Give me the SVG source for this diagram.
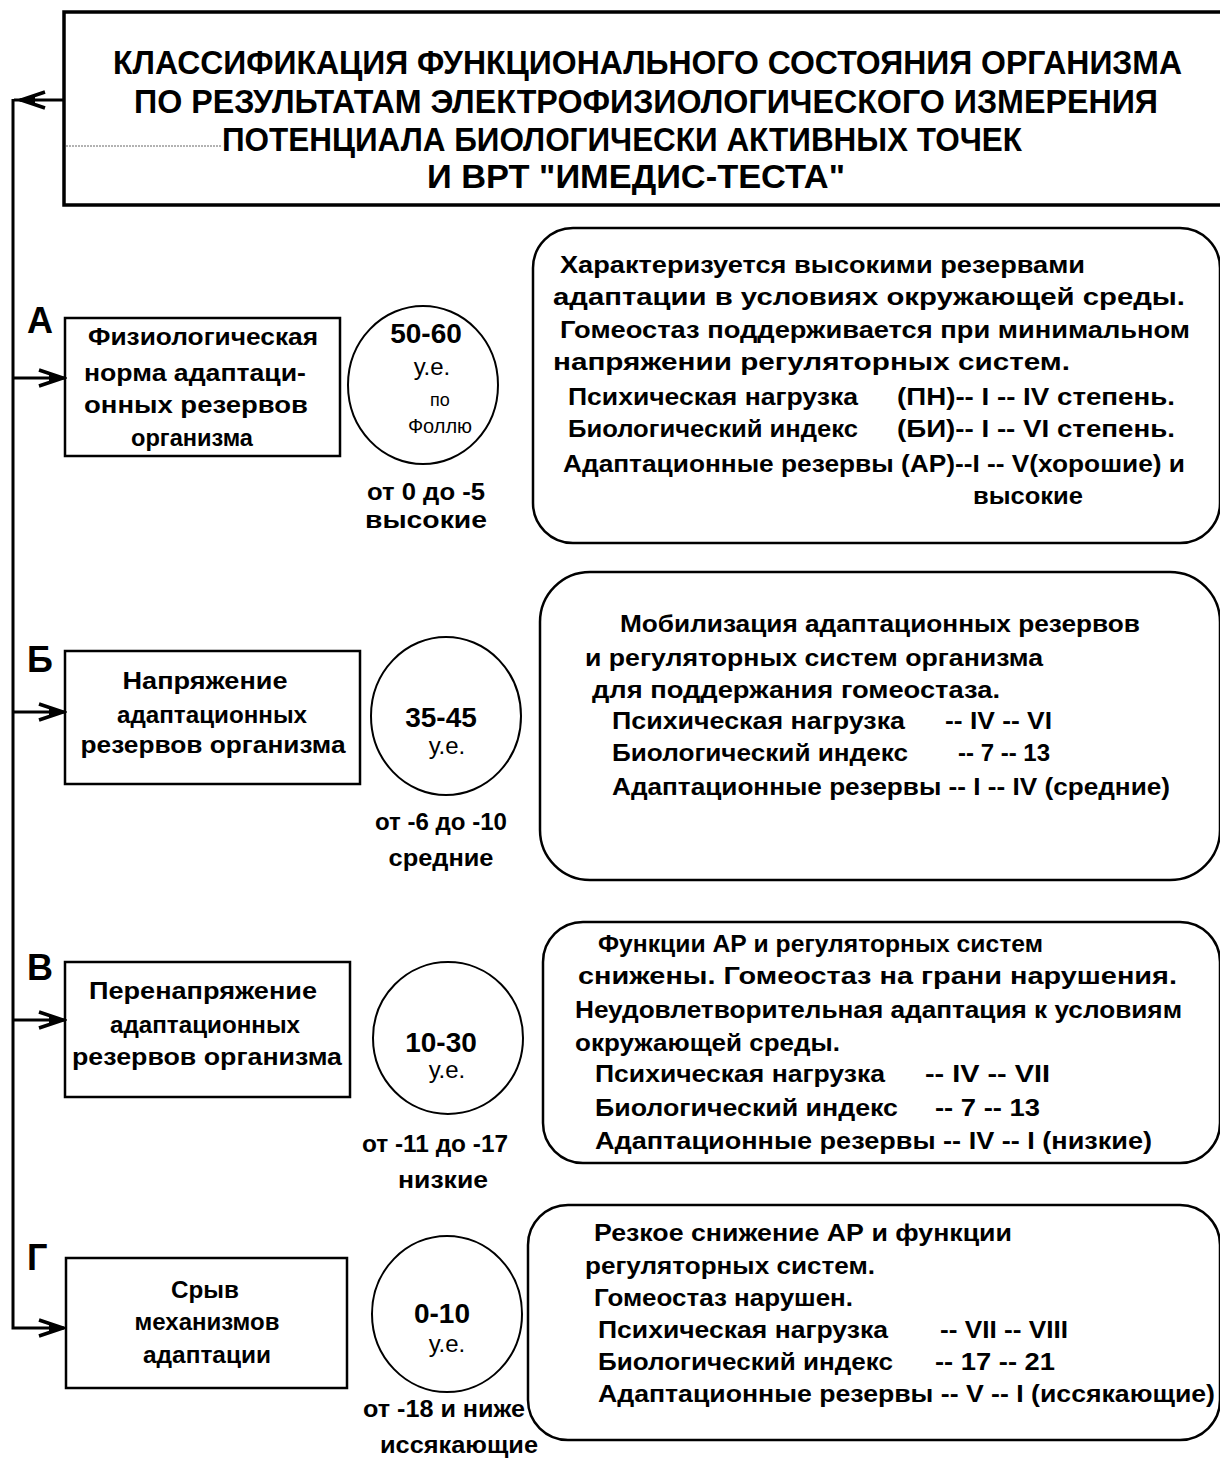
<svg xmlns="http://www.w3.org/2000/svg" width="1220" height="1461" viewBox="0 0 1220 1461">
<defs>
<style>
.box{fill:none;stroke:#000;stroke-width:2.5}
.circ{fill:none;stroke:#000;stroke-width:2}
.con{fill:none;stroke:#000;stroke-width:3}
.t{font-family:"Liberation Sans","DejaVu Sans",sans-serif;font-weight:bold;fill:#000}
.title{font-size:33px}
.body{font-size:24px}
.lab{font-size:23px}
.letter{font-size:36px}
.big{font-size:28px}
.small{font-family:"Liberation Sans","DejaVu Sans",sans-serif;font-weight:normal;fill:#000}
</style>
<marker id="arr" markerWidth="30" markerHeight="22" refX="27" refY="10" orient="auto" markerUnits="userSpaceOnUse">
<path d="M2,2 L26,10 L2,18" fill="none" stroke="#000" stroke-width="3.5"/>
<path d="M12,6 L27,10 L12,14 z" fill="#000"/>
</marker>
</defs>
<rect width="1220" height="1461" fill="#fff"/>

<g id="connectors">
<path class="con" d="M64,100 H20" marker-end="url(#arr)"/>
<path class="con" d="M14,100 H22"/>
<path class="con" d="M13,99 V1328 H64" marker-end="url(#arr)"/>
<path class="con" d="M13,378 H64" marker-end="url(#arr)"/>
<path class="con" d="M13,712 H64" marker-end="url(#arr)"/>
<path class="con" d="M13,1020 H64" marker-end="url(#arr)"/>
<line x1="66" y1="146" x2="222" y2="146" stroke="#666" stroke-width="1" stroke-dasharray="2,1"/>
</g>

<g id="title">
<path d="M1222,12 H64 V205 H1222" fill="none" stroke="#000" stroke-width="3.5"/>
<text class="t title" x="113" y="74" textLength="1069" lengthAdjust="spacingAndGlyphs">КЛАССИФИКАЦИЯ ФУНКЦИОНАЛЬНОГО СОСТОЯНИЯ ОРГАНИЗМА</text>
<text class="t title" x="134" y="113" textLength="1024" lengthAdjust="spacingAndGlyphs">ПО РЕЗУЛЬТАТАМ ЭЛЕКТРОФИЗИОЛОГИЧЕСКОГО ИЗМЕРЕНИЯ</text>
<text class="t title" x="222" y="151" textLength="800" lengthAdjust="spacingAndGlyphs">ПОТЕНЦИАЛА БИОЛОГИЧЕСКИ АКТИВНЫХ ТОЧЕК</text>
<text class="t title" x="427" y="188" textLength="418" lengthAdjust="spacingAndGlyphs">И ВРТ "ИМЕДИС-ТЕСТА"</text>
</g>

<g id="stageA">
<text class="t letter" x="27" y="333">А</text>
<rect class="box" x="65" y="318" width="275" height="138"/>
<text class="t lab" x="203" y="345" text-anchor="middle" textLength="230" lengthAdjust="spacingAndGlyphs">Физиологическая</text>
<text class="t lab" x="195" y="381" text-anchor="middle" textLength="222" lengthAdjust="spacingAndGlyphs">норма адаптаци-</text>
<text class="t lab" x="196" y="413" text-anchor="middle" textLength="224" lengthAdjust="spacingAndGlyphs">онных резервов</text>
<text class="t lab" x="192" y="446" text-anchor="middle" textLength="122" lengthAdjust="spacingAndGlyphs">организма</text>
</g>
<g id="circleA">
<ellipse class="circ" cx="423" cy="385" rx="75" ry="79"/>
<text class="t big" x="426" y="343" text-anchor="middle">50-60</text>
<text class="small" font-size="24" x="432" y="375" text-anchor="middle">у.е.</text>
<text class="small" font-size="18" x="440" y="406" text-anchor="middle">по</text>
<text class="small" font-size="20" x="440" y="433" text-anchor="middle">Фоллю</text>
<text class="t lab" x="426" y="500" text-anchor="middle" textLength="118" lengthAdjust="spacingAndGlyphs">от 0 до -5</text>
<text class="t lab" x="426" y="528" text-anchor="middle" textLength="122" lengthAdjust="spacingAndGlyphs">высокие</text>
</g>
<g id="descA">
<rect class="box" x="533" y="228" width="687" height="315" rx="40"/>
<text class="t body" x="560" y="273" textLength="525" lengthAdjust="spacingAndGlyphs">Характеризуется высокими резервами</text>
<text class="t body" x="553" y="305" textLength="632" lengthAdjust="spacingAndGlyphs">адаптации в условиях окружающей среды.</text>
<text class="t body" x="560" y="338" textLength="630" lengthAdjust="spacingAndGlyphs">Гомеостаз поддерживается при минимальном</text>
<text class="t body" x="553" y="370" textLength="517" lengthAdjust="spacingAndGlyphs">напряжении регуляторных систем.</text>
<text class="t body" x="568" y="405" textLength="290" lengthAdjust="spacingAndGlyphs">Психическая нагрузка</text>
<text class="t body" x="897" y="405" textLength="278" lengthAdjust="spacingAndGlyphs">(ПН)-- I -- IV степень.</text>
<text class="t body" x="568" y="437" textLength="290" lengthAdjust="spacingAndGlyphs">Биологический индекс</text>
<text class="t body" x="897" y="437" textLength="278" lengthAdjust="spacingAndGlyphs">(БИ)-- I -- VI степень.</text>
<text class="t body" x="563" y="472" textLength="622" lengthAdjust="spacingAndGlyphs">Адаптационные резервы (АР)--I -- V(хорошие) и</text>
<text class="t body" x="973" y="504" textLength="110" lengthAdjust="spacingAndGlyphs">высокие</text>
</g>

<g id="stageB">
<text class="t letter" x="27" y="672">Б</text>
<rect class="box" x="65" y="651" width="295" height="133"/>
<text class="t lab" x="205" y="689" text-anchor="middle" textLength="165" lengthAdjust="spacingAndGlyphs">Напряжение</text>
<text class="t lab" x="212" y="723" text-anchor="middle" textLength="190" lengthAdjust="spacingAndGlyphs">адаптационных</text>
<text class="t lab" x="213" y="753" text-anchor="middle" textLength="265" lengthAdjust="spacingAndGlyphs">резервов  организма</text>
</g>
<g id="circleB">
<ellipse class="circ" cx="446" cy="716" rx="75" ry="79"/>
<text class="t big" x="441" y="727" text-anchor="middle">35-45</text>
<text class="small" font-size="24" x="447" y="754" text-anchor="middle">у.е.</text>
<text class="t lab" x="441" y="830" text-anchor="middle" textLength="132" lengthAdjust="spacingAndGlyphs">от -6 до -10</text>
<text class="t lab" x="441" y="866" text-anchor="middle" textLength="105" lengthAdjust="spacingAndGlyphs">средние</text>
</g>
<g id="descB">
<rect class="box" x="540" y="572" width="680" height="308" rx="50"/>
<text class="t body" x="620" y="632" textLength="520" lengthAdjust="spacingAndGlyphs">Мобилизация адаптационных резервов</text>
<text class="t body" x="585" y="666" textLength="458" lengthAdjust="spacingAndGlyphs">и регуляторных систем организма</text>
<text class="t body" x="592" y="698" textLength="408" lengthAdjust="spacingAndGlyphs">для поддержания гомеостаза.</text>
<text class="t body" x="612" y="729" textLength="293" lengthAdjust="spacingAndGlyphs">Психическая нагрузка</text>
<text class="t body" x="945" y="729" textLength="107" lengthAdjust="spacingAndGlyphs">-- IV -- VI</text>
<text class="t body" x="612" y="761" textLength="296" lengthAdjust="spacingAndGlyphs">Биологический индекс</text>
<text class="t body" x="958" y="761" textLength="92" lengthAdjust="spacingAndGlyphs">-- 7 -- 13</text>
<text class="t body" x="612" y="795" textLength="558" lengthAdjust="spacingAndGlyphs">Адаптационные резервы -- I -- IV (средние)</text>
</g>

<g id="stageV">
<text class="t letter" x="27" y="980">В</text>
<rect class="box" x="65" y="962" width="285" height="135"/>
<text class="t lab" x="203" y="999" text-anchor="middle" textLength="228" lengthAdjust="spacingAndGlyphs">Перенапряжение</text>
<text class="t lab" x="205" y="1033" text-anchor="middle" textLength="190" lengthAdjust="spacingAndGlyphs">адаптационных</text>
<text class="t lab" x="207" y="1065" text-anchor="middle" textLength="270" lengthAdjust="spacingAndGlyphs">резервов организма</text>
</g>
<g id="circleV">
<ellipse class="circ" cx="448" cy="1038" rx="75" ry="76"/>
<text class="t big" x="441" y="1052" text-anchor="middle">10-30</text>
<text class="small" font-size="24" x="447" y="1078" text-anchor="middle">у.е.</text>
<text class="t lab" x="435" y="1152" text-anchor="middle" textLength="146" lengthAdjust="spacingAndGlyphs">от -11 до -17</text>
<text class="t lab" x="443" y="1188" text-anchor="middle" textLength="90" lengthAdjust="spacingAndGlyphs">низкие</text>
</g>
<g id="descV">
<rect class="box" x="543" y="922" width="677" height="241" rx="40"/>
<text class="t body" x="598" y="952" textLength="445" lengthAdjust="spacingAndGlyphs">Функции АР и регуляторных систем</text>
<text class="t body" x="578" y="984" textLength="599" lengthAdjust="spacingAndGlyphs">снижены. Гомеостаз на грани нарушения.</text>
<text class="t body" x="575" y="1018" textLength="607" lengthAdjust="spacingAndGlyphs">Неудовлетворительная адаптация к условиям</text>
<text class="t body" x="575" y="1051" textLength="265" lengthAdjust="spacingAndGlyphs">окружающей среды.</text>
<text class="t body" x="595" y="1082" textLength="290" lengthAdjust="spacingAndGlyphs">Психическая нагрузка</text>
<text class="t body" x="925" y="1082" textLength="125" lengthAdjust="spacingAndGlyphs">-- IV -- VII</text>
<text class="t body" x="595" y="1116" textLength="303" lengthAdjust="spacingAndGlyphs">Биологический индекс</text>
<text class="t body" x="935" y="1116" textLength="105" lengthAdjust="spacingAndGlyphs">--  7  -- 13</text>
<text class="t body" x="595" y="1149" textLength="557" lengthAdjust="spacingAndGlyphs">Адаптационные резервы --  IV -- I (низкие)</text>
</g>

<g id="stageG">
<text class="t letter" x="27" y="1270">Г</text>
<rect class="box" x="66" y="1258" width="281" height="130"/>
<text class="t lab" x="205" y="1298" text-anchor="middle" textLength="68" lengthAdjust="spacingAndGlyphs">Срыв</text>
<text class="t lab" x="207" y="1330" text-anchor="middle" textLength="145" lengthAdjust="spacingAndGlyphs">механизмов</text>
<text class="t lab" x="207" y="1363" text-anchor="middle" textLength="128" lengthAdjust="spacingAndGlyphs">адаптации</text>
</g>
<g id="circleG">
<ellipse class="circ" cx="447" cy="1314" rx="75" ry="78"/>
<text class="t big" x="442" y="1323" text-anchor="middle">0-10</text>
<text class="small" font-size="24" x="447" y="1352" text-anchor="middle">у.е.</text>
<text class="t lab" x="444" y="1417" text-anchor="middle" textLength="162" lengthAdjust="spacingAndGlyphs">от -18 и ниже</text>
<text class="t lab" x="459" y="1453" text-anchor="middle" textLength="158" lengthAdjust="spacingAndGlyphs">иссякающие</text>
</g>
<g id="descG">
<rect class="box" x="528" y="1205" width="692" height="235" rx="40"/>
<text class="t body" x="594" y="1241" textLength="418" lengthAdjust="spacingAndGlyphs">Резкое снижение АР и функции</text>
<text class="t body" x="585" y="1274" textLength="290" lengthAdjust="spacingAndGlyphs">регуляторных систем.</text>
<text class="t body" x="594" y="1306" textLength="259" lengthAdjust="spacingAndGlyphs">Гомеостаз нарушен.</text>
<text class="t body" x="598" y="1338" textLength="290" lengthAdjust="spacingAndGlyphs">Психическая нагрузка</text>
<text class="t body" x="940" y="1338" textLength="128" lengthAdjust="spacingAndGlyphs">-- VII -- VIII</text>
<text class="t body" x="598" y="1370" textLength="295" lengthAdjust="spacingAndGlyphs">Биологический индекс</text>
<text class="t body" x="935" y="1370" textLength="120" lengthAdjust="spacingAndGlyphs">--  17 -- 21</text>
<text class="t body" x="598" y="1402" textLength="617" lengthAdjust="spacingAndGlyphs">Адаптационные резервы  --  V -- I (иссякающие)</text>
</g>
</svg>
